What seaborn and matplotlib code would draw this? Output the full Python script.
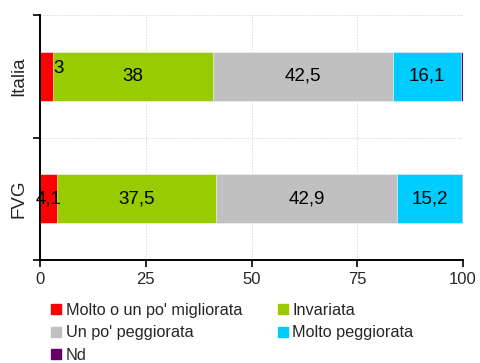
import matplotlib
matplotlib.use("Agg")
import matplotlib.pyplot as plt
from matplotlib.lines import Line2D
import numpy as np
import pandas as pd
import seaborn as sns

# Data
regions = ["Italia", "FVG"]
series = ["Molto o un po' migliorata", "Invariata", "Un po' peggiorata",
          "Molto peggiorata", "Nd"]
migliorata = [3.0, 4.1]
invariata = [38.0, 37.5]
un_po_peggiorata = [42.5, 42.9]
molto_peggiorata = [16.1, 15.2]
nd = [0.4, 0.3]
labels_migliorata = ["3", "4,1"]
labels_invariata = ["38", "37,5"]
labels_un_po = ["42,5", "42,9"]
labels_molto = ["16,1", "15,2"]
xticks = [0, 25, 50, 75, 100]

colors = ["#FF0000", "#99CC00", "#C0C0C0", "#00CCFF", "#660066"]

sns.set_theme(style="white")
plt.rcParams["font.family"] = ["Liberation Sans", "DejaVu Sans"]

values = np.array([migliorata, invariata, un_po_peggiorata, molto_peggiorata, nd])
cum = np.cumsum(values, axis=0)

fig = plt.figure(figsize=(4.8, 3.63), dpi=100)
ax = fig.add_axes([40 / 480, 1 - 260 / 363, 423 / 480, 245 / 363])

# Stacked bars: draw cumulative totals from back to front
for i in range(len(series) - 1, -1, -1):
    df = pd.DataFrame({"regione": regions, "valore": cum[i]})
    sns.barplot(data=df, x="valore", y="regione", orient="h", color=colors[i],
                width=0.4, saturation=1, edgecolor="white", linewidth=0.4,
                ax=ax, zorder=2)

# Segment labels
label_sets = [labels_migliorata, labels_invariata, labels_un_po, labels_molto]
for i, labs in enumerate(label_sets):
    for j, lab in enumerate(labs):
        start = cum[i][j] - values[i][j]
        centre = start + values[i][j] / 2
        if i == 0 and j == 0:
            ax.text(cum[i][j] + 0.2, j - 0.06, lab, ha="left", va="center",
                    fontsize=13.5, color="black", zorder=3)
        else:
            ax.text(centre, j, lab, ha="center", va="center",
                    fontsize=13.5, color="black", zorder=3)

ax.set_xlim(0, 100)
ax.set_ylim(1.5, -0.5)
ax.set_xticks(xticks)
ax.set_xticklabels([str(t) for t in xticks], fontsize=12)
ax.set_yticks([-0.5, 0.5, 1.5])
ax.set_yticklabels([])
ax.set_yticks([0, 1], minor=True)
ax.set_yticklabels(regions, minor=True, rotation=90, va="center", fontsize=13.5)
ax.tick_params(axis="y", which="minor", length=0, pad=9)
ax.tick_params(axis="y", which="major", length=5, width=1.2, color="black",
               direction="out", left=True)
ax.tick_params(axis="x", length=5, width=1.2, color="black", direction="out",
               bottom=True, pad=4)
ax.set_xlabel("")
ax.set_ylabel("")

ax.grid(True, which="major", axis="both", color="#D9D9D9", linestyle=(0, (1.5, 1.5)),
        linewidth=0.7, zorder=0)
ax.set_axisbelow(True)
for side in ["top", "right"]:
    ax.spines[side].set_visible(False)
for side in ["left", "bottom"]:
    ax.spines[side].set_color("black")
    ax.spines[side].set_linewidth(1.4)

# Legend filled row by row in two columns
order = [0, 2, 4, 1, 3]
handles = [Line2D([0], [0], marker="s", linestyle="none", markersize=7.5,
                  markerfacecolor=colors[k], markeredgecolor=colors[k]) for k in order]
fig.legend(handles, [series[k] for k in order], loc="upper left",
           bbox_to_anchor=(51 / 480, 1 - 303 / 363),
           ncol=2, frameon=False, fontsize=11.7, handlelength=0.6, handletextpad=0.3,
           labelspacing=0.45, columnspacing=2.2, borderaxespad=0, borderpad=0)

fig.savefig("out.png", dpi=100)
